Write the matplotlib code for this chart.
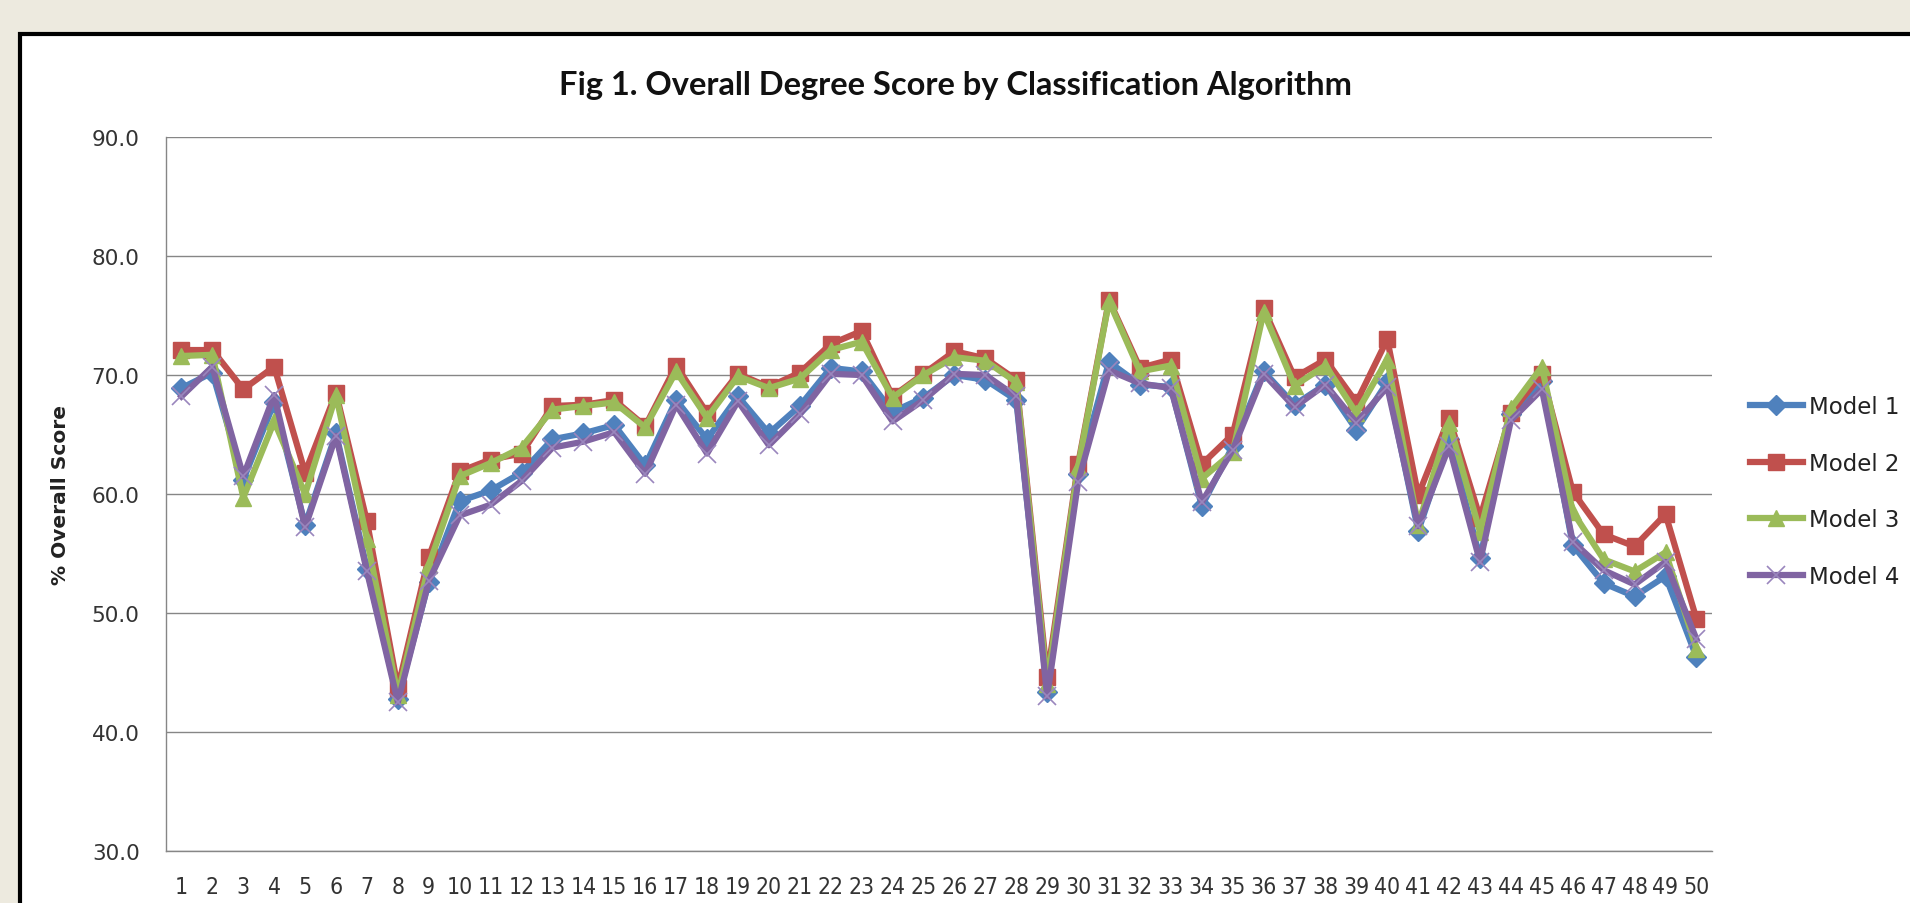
import matplotlib
matplotlib.use("Agg")
import matplotlib.pyplot as plt
from matplotlib.patches import Rectangle

# data
categories = list(range(1, 51))

model1 = [68.9, 70.2, 61.2, 67.7, 57.4, 65.1, 53.7, 42.8, 52.6, 59.4,
          60.3, 61.8, 64.6, 65.1, 65.8, 62.4, 67.9, 64.6, 68.2, 65.1,
          67.4, 70.6, 70.3, 66.9, 68.1, 70.0, 69.6, 67.9, 43.4, 61.7,
          71.1, 69.2, 69.0, 59.0, 64.0, 70.3, 67.5, 69.2, 65.4, 69.4,
          56.9, 64.6, 54.6, 66.7, 69.5, 55.7, 52.5, 51.4, 53.1, 46.3]

model2 = [72.1, 72.1, 68.8, 70.7, 61.8, 68.5, 57.7, 43.7, 54.7, 61.9,
          62.9, 63.4, 67.4, 67.5, 67.9, 65.7, 70.8, 66.8, 70.1, 69.0,
          70.2, 72.6, 73.7, 68.2, 70.1, 72.0, 71.4, 69.6, 44.6, 62.5,
          76.3, 70.6, 71.3, 62.5, 65.0, 75.6, 69.8, 71.3, 67.7, 73.0,
          59.9, 66.4, 58.0, 66.8, 70.1, 60.2, 56.6, 55.6, 58.3, 49.5]

model3 = [71.6, 71.7, 59.7, 66.1, 60.0, 68.3, 56.2, 43.1, 54.0, 61.5,
          62.6, 63.9, 67.1, 67.4, 67.7, 65.6, 70.3, 66.4, 69.9, 68.9,
          69.7, 72.1, 72.8, 68.1, 70.0, 71.5, 71.2, 69.4, 44.0, 62.3,
          76.2, 70.3, 70.8, 61.3, 63.5, 75.3, 69.1, 70.8, 66.8, 71.3,
          57.4, 66.0, 56.8, 67.2, 70.7, 58.5, 54.5, 53.5, 55.1, 47.0]

model4 = [68.2, 70.7, 61.5, 68.3, 57.2, 64.9, 53.5, 42.5, 52.7, 58.2,
          59.1, 61.1, 63.9, 64.4, 65.2, 61.7, 67.5, 63.4, 67.8, 64.1,
          66.7, 70.1, 70.0, 66.1, 67.9, 70.1, 70.0, 68.2, 43.0, 61.0,
          70.4, 69.3, 68.9, 59.3, 63.7, 70.1, 67.3, 69.2, 66.0, 69.0,
          57.3, 64.0, 54.3, 66.2, 68.8, 56.0, 53.6, 52.4, 54.3, 47.8]

series_names = ["Model 1", "Model 2", "Model 3", "Model 4"]
y_ticks = [30, 40, 50, 60, 70, 80, 90]

fig = plt.figure(figsize=(19.1, 9.04), dpi=100)
fig.patch.set_facecolor("#edeadf")

# white panel with black border (runs off the right/bottom edge)
frame = Rectangle((0.0107, -0.2), 1.3, 0.9618 + 0.2, transform=fig.transFigure,
                  facecolor="white", edgecolor="black", linewidth=3.0, zorder=-1)
fig.patches.append(frame)

ax = fig.add_axes([0.0869, 0.0575, 0.8094, 0.7898])
ax.set_zorder(2)
ax.set_facecolor("white")

styles = [
    dict(color="#4f81bd", marker="D", markersize=10),
    dict(color="#c0504d", marker="s", markersize=12),
    dict(color="#9bbb59", marker="^", markersize=12),
    dict(color="#8064a2", marker="x", markersize=13, markeredgewidth=1.2),
]
for vals, name, st in zip([model1, model2, model3, model4], series_names, styles):
    if st["marker"] == "x":
        ax.plot(categories, vals, label=name, linewidth=4.5, color=st["color"],
                marker="x", markersize=st["markersize"],
                markeredgewidth=st["markeredgewidth"], markeredgecolor="#9a86bd")
    else:
        ax.plot(categories, vals, label=name, linewidth=4.5, color=st["color"],
                marker=st["marker"], markersize=st["markersize"],
                markeredgecolor=st["color"])

ax.set_xlim(0.5, 50.5)
ax.set_ylim(30, 90)
ax.set_yticks(y_ticks)
ax.set_yticklabels([f"{v:.1f}" for v in y_ticks])
ax.set_xticks(categories)
ax.set_xticklabels([str(c) for c in categories], fontstretch="condensed")
ax.yaxis.grid(True, color="#868686", linewidth=1.0)
ax.set_axisbelow(True)
for s in ["top", "right"]:
    ax.spines[s].set_visible(False)
for s in ["left", "bottom"]:
    ax.spines[s].set_color("#868686")
    ax.spines[s].set_linewidth(1.0)
ax.tick_params(axis="both", length=0, colors="#333333")
ax.tick_params(axis="y", labelsize=15.5, pad=19)
ax.tick_params(axis="x", labelsize=16.5, pad=17)

ax.set_ylabel("% Overall Score", fontsize=14.5, fontweight="bold", color="#222222")
ax.yaxis.set_label_coords(-0.062, 0.5)

fig.text(0.5, 0.905, "Fig 1. Overall Degree Score by Classification Algorithm",
         ha="center", va="center", fontsize=23.5, fontweight="bold",
         family="Lato", color="#111111")

ax.legend(loc="center left", bbox_to_anchor=(1.0246, 0.5035), frameon=False,
          fontsize=16.5, borderpad=0, borderaxespad=0, handlelength=2.3,
          handletextpad=0.26, labelspacing=1.47, labelcolor="#222222")

fig.savefig("out.png", dpi=100, facecolor=fig.get_facecolor())
